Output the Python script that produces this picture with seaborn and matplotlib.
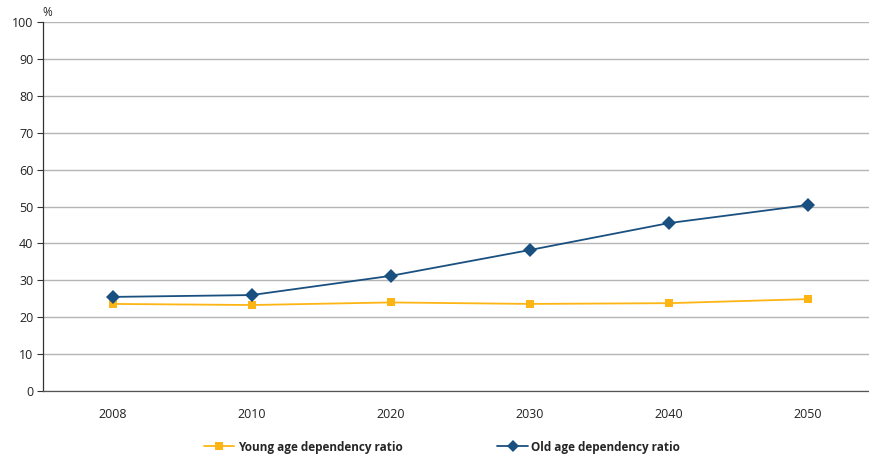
import matplotlib
matplotlib.use("Agg")
import matplotlib.pyplot as plt
from matplotlib.lines import Line2D
import seaborn as sns
import pandas as pd

years = ["2008", "2010", "2020", "2030", "2040", "2050"]
young = [23.6, 23.3, 24.0, 23.6, 23.8, 24.9]
old = [25.5, 26.0, 31.2, 38.2, 45.5, 50.4]
series_names = ["Young age dependency ratio", "Old age dependency ratio"]
y_ticks = list(range(0, 101, 10))

sns.set_theme(style="white")
plt.rcParams["font.family"] = ["Open Sans", "DejaVu Sans"]

df = pd.DataFrame({
    "year": years * 2,
    "value": young + old,
    "series": [series_names[0]] * len(years) + [series_names[1]] * len(years),
})

colors = {series_names[0]: "#FDB515", series_names[1]: "#1A5080"}
markers = {series_names[0]: "s", series_names[1]: "D"}

fig = plt.figure(figsize=(8.69, 4.57), dpi=100)
ax = fig.add_axes([43 / 869, 1 - 391 / 457, 1 - 43 / 869, (391 - 22) / 457])

for name in series_names:
    sub = df[df["series"] == name]
    sns.lineplot(data=sub, x="year", y="value", ax=ax, color=colors[name],
                 marker=markers[name], markersize=7 if name == series_names[1] else 6,
                 markeredgewidth=0, linewidth=1.3, sort=False, legend=False)

ax.set_yticks(y_ticks)
ax.set_yticklabels([str(t) for t in y_ticks], fontsize=9, color="#222222")
ax.set_xticks(range(len(years)))
ax.set_xticklabels(years, fontsize=9, color="#222222")
ax.set_xticks([i - 0.5 for i in range(len(years) + 1)], minor=True)
ax.set_xlim(-0.5, 5.44)
ax.set_ylim(0, 100)
ax.tick_params(axis="x", which="major", length=0, pad=12)
ax.tick_params(axis="x", which="minor", length=4, width=0.8, color="#333333", direction="out")
ax.tick_params(axis="y", length=4, width=0.8, color="#333333", direction="out", left=True, pad=3)
ax.set_xlabel("")
ax.set_ylabel("")

ax.grid(axis="y", color="#b5b5b5", linewidth=1.0)
ax.set_axisbelow(True)
for side in ["top", "right"]:
    ax.spines[side].set_visible(False)
ax.spines["left"].set_color("#333333")
ax.spines["left"].set_linewidth(0.9)
ax.spines["bottom"].set_color("#555555")
ax.spines["bottom"].set_linewidth(0.9)

fig.text(42 / 869, 1 - 12 / 457, "%", fontsize=8.5, color="#222222", va="center", ha="left")

handles = [
    Line2D([0], [0], color=colors[series_names[0]], marker="s", markersize=6,
           markeredgewidth=0, linewidth=1.3),
    Line2D([0], [0], color=colors[series_names[1]], marker="D", markersize=6,
           markeredgewidth=0, linewidth=1.3),
]
leg = fig.legend(handles, series_names, loc="center", bbox_to_anchor=(442 / 869, 1 - 447 / 457),
                 ncol=2, frameon=False, columnspacing=8.0, handlelength=2.6, handletextpad=0.3,
                 prop={"weight": "bold", "size": 8.5})

fig.savefig("out.png", dpi=100)
